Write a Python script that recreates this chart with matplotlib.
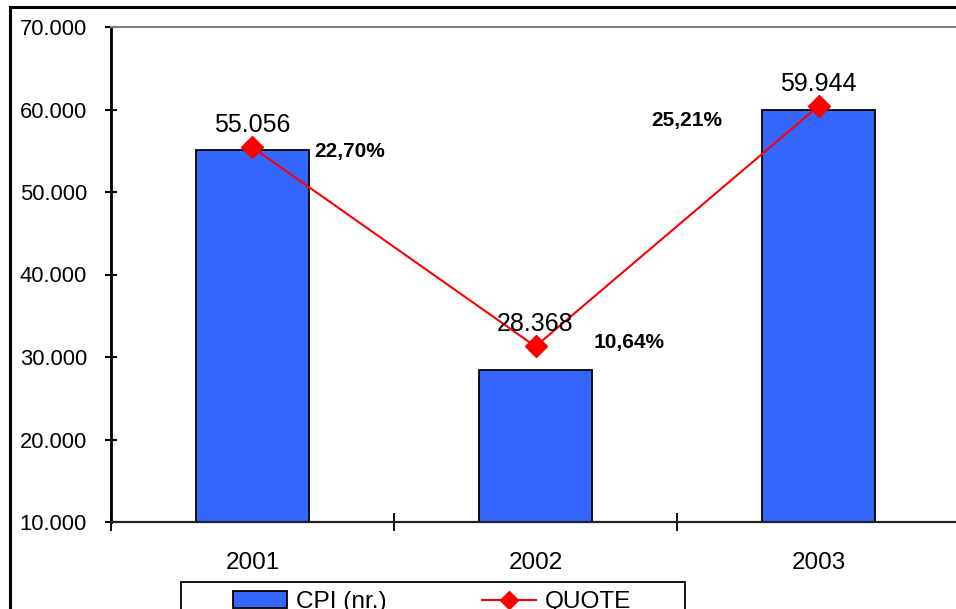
import matplotlib
matplotlib.use("Agg")
import matplotlib.pyplot as plt
from matplotlib.patches import Rectangle, Patch
from matplotlib.lines import Line2D

plt.rcParams["font.family"] = ["Liberation Sans", "DejaVu Sans"]

# data
years = ["2001", "2002", "2003"]
cpi = [55056, 28368, 59944]
quote = [22.70, 10.64, 25.21]
y_ticks = [10000, 20000, 30000, 40000, 50000, 60000, 70000]

def thousands(v):
    return f"{v:,}".replace(",", ".")

def percent(v):
    return f"{v:.2f}%".replace(".", ",")

W, H, DPI = 956, 609, 100
fig = plt.figure(figsize=(W / DPI, H / DPI), dpi=DPI)

def fx(px):
    return px / W

def fy(py):
    return 1 - py / H

PT = 72 / DPI  # points per pixel

ax = fig.add_axes([fx(111), fy(522), (960 - 111) / W, (522 - 27) / H])
x = list(range(len(years)))

ax.bar(x, cpi, width=0.4, color="#3366FF", edgecolor="black", linewidth=1.3, zorder=2)
ax.set_xlim(-0.5, len(years) - 0.5)
ax.set_ylim(10000, 70000)
ax.set_yticks(y_ticks, [thousands(v) for v in y_ticks])
ax.set_xticks(x, years)
ax.set_xticks([i - 0.5 for i in range(len(years) + 1)], minor=True)

ax.tick_params(axis="y", direction="inout", length=9, width=1.5, pad=12.8, labelsize=15.8)
ax.tick_params(axis="x", which="major", length=0, pad=21.5, labelsize=17.5)
ax.tick_params(axis="x", which="minor", direction="inout", length=13, width=1.3)

ax.spines["left"].set_linewidth(2)
ax.spines["left"].set_color("black")
ax.spines["bottom"].set_linewidth(1.6)
ax.spines["bottom"].set_color("#222222")
ax.spines["top"].set_color("#808080")
ax.spines["top"].set_linewidth(1.5)
ax.spines["right"].set_visible(False)

# secondary scale for the percentage line
ax2 = ax.twinx()
ax2.set_ylim(0, 30)
ax2.axis("off")
ax2.plot(x, quote, color="#FF0000", linewidth=1.5, marker="D", markersize=10.7,
         markeredgecolor="#FF0000", zorder=3)

for i, (c, q) in enumerate(zip(cpi, quote)):
    ax2.annotate(thousands(c), (i, q), xytext=(0, 22 * PT), textcoords="offset points",
                 ha="center", va="center", fontsize=18, zorder=4)

pct_offsets = [(62, -4), (58, 4), (-167, -14)]
for i, q in enumerate(quote):
    dx, dy = pct_offsets[i]
    ax2.annotate(percent(q), (i, q), xytext=(dx * PT, dy * PT), textcoords="offset points",
                 ha="left", va="center", fontsize=15, fontweight="bold", zorder=4)

# legend
handles = [Patch(facecolor="#3366FF", edgecolor="black", linewidth=1.3),
           Line2D([0], [0], color="#FF0000", linewidth=1.5, marker="D", markersize=8.7)]
fig.legend(handles, ["CPI (nr.)", "QUOTE"], loc="center left",
           bbox_to_anchor=(fx(233), fy(602)), ncol=2, frameon=False,
           fontsize=17.6, borderpad=0, borderaxespad=0, handlelength=2.2,
           handletextpad=0.37, columnspacing=3.9)
fig.patches.append(Rectangle((fx(181), fy(640)), fx(685) - fx(181), fy(582) - fy(640),
                             transform=fig.transFigure, fill=False,
                             edgecolor="black", linewidth=1.3))

# outer chart border
fig.patches.append(Rectangle((fx(9.5), fy(700)), fx(1000) - fx(9.5), fy(7) - fy(700),
                             transform=fig.transFigure, fill=False,
                             edgecolor="black", linewidth=2.2))

fig.savefig("out.png", dpi=DPI)
